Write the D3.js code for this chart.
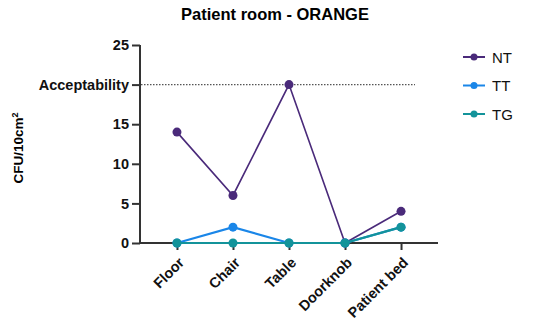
<!DOCTYPE html>
<html>
<head>
<meta charset="utf-8">
<script src="https://cdn.jsdelivr.net/npm/d3@7"></script>
<style>
  body { margin: 0; background: #fff; }
  svg { font-family: "Liberation Sans", Arial, sans-serif; }
</style>
</head>
<body>
<svg id="chart" width="550" height="329"></svg>
<script>
const sites = ["Floor", "Chair", "Table", "Doorknob", "Patient bed"];
const ntValues = [14, 6, 20, 0, 4];
const ttValues = [0, 2, 0, 0, 2];
const tgValues = [0, 0, 0, 0, 2];
const yTicks = [0, 5, 10, 15, 25];
const acceptability = 20;

const series = [
  { name: "NT", values: ntValues, color: "#4a2a7a" },
  { name: "TT", values: ttValues, color: "#1a86e8" },
  { name: "TG", values: tgValues, color: "#13939a" }
];

const svg = d3.select("#chart");

const x = d3.scalePoint().domain(sites).range([140, 438]).padding(0.66);
const y = d3.scaleLinear().domain([0, 25]).range([243, 45]);

// title
svg.append("text")
  .attr("x", 275).attr("y", 20)
  .attr("text-anchor", "middle")
  .style("font-size", "16.5px").style("font-weight", "bold")
  .text("Patient room - ORANGE");

// y label
const yl = svg.append("text")
  .attr("transform", "translate(23,148) rotate(-90)")
  .attr("text-anchor", "middle")
  .style("font-size", "13.5px").style("font-weight", "bold");
yl.append("tspan").text("CFU/10cm");
yl.append("tspan").attr("dy", "-5").style("font-size", "9px").text("2");

// acceptability line
svg.append("line")
  .attr("x1", 141).attr("x2", 415)
  .attr("y1", y(acceptability)).attr("y2", y(acceptability))
  .attr("stroke", "#555").attr("stroke-width", 1.2)
  .attr("stroke-dasharray", "1.5,1.5");

// y axis
const yAxis = svg.append("g")
  .attr("transform", "translate(140,0)")
  .call(d3.axisLeft(y).tickValues(yTicks.concat([acceptability]))
    .tickFormat(d => d === acceptability ? "Acceptability" : d)
    .tickSize(8).tickPadding(3));

// x axis
const xAxis = svg.append("g")
  .attr("transform", "translate(0,243)")
  .call(d3.axisBottom(x).tickSize(7).tickPadding(4));

[yAxis, xAxis].forEach(g => {
  g.select(".domain").attr("stroke", "#333").attr("stroke-width", 2);
  g.selectAll(".tick line").attr("stroke", "#333").attr("stroke-width", 2);
  g.selectAll(".tick text")
    .attr("fill", "#111")
    .style("font-size", "14.5px").style("font-weight", "bold")
    .style("font-family", "Liberation Sans, Arial, sans-serif");
});
yAxis.select(".domain").attr("d", "M0,45V243");
xAxis.select(".domain").attr("d", "M140,0H438");

xAxis.selectAll(".tick text")
  .attr("text-anchor", "end")
  .attr("x", 0).attr("y", 0)
  .attr("dx", 0).attr("dy", "0.35em")
  .attr("transform", "translate(4,17) rotate(-45)");

// lines
const line = d3.line().x((d, i) => x(sites[i])).y(d => y(d));

series.forEach(s => {
  svg.append("path")
    .datum(s.values)
    .attr("fill", "none")
    .attr("stroke", s.color)
    .attr("stroke-width", s.name === "NT" ? 1.6 : 2.2)
    .attr("d", line);
  svg.selectAll(null)
    .data(s.values)
    .join("circle")
    .attr("cx", (d, i) => x(sites[i]))
    .attr("cy", d => y(d))
    .attr("r", 4.5)
    .attr("fill", s.color);
});

// legend
const legend = svg.append("g");
series.forEach((s, i) => {
  const ly = 57 + i * 28.5;
  legend.append("line")
    .attr("x1", 463).attr("x2", 485)
    .attr("y1", ly).attr("y2", ly)
    .attr("stroke", s.color).attr("stroke-width", 2);
  legend.append("circle")
    .attr("cx", 474).attr("cy", ly).attr("r", 3.5)
    .attr("fill", s.color);
  legend.append("text")
    .attr("x", 492).attr("y", ly + 5.5)
    .style("font-size", "15px")
    .attr("fill", "#111")
    .text(s.name);
});
</script>
</body>
</html>
